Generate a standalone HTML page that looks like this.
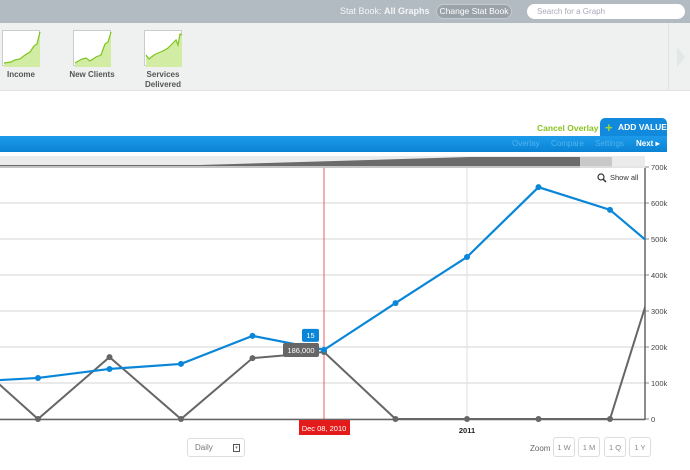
<!DOCTYPE html>
<html><head><meta charset="utf-8">
<style>
*{margin:0;padding:0;box-sizing:border-box}
body{width:690px;height:470px;overflow:hidden;background:#fff;font-family:"Liberation Sans",sans-serif;position:relative}
.abs{position:absolute}
#topbar{left:0;top:0;width:690px;height:23px;background:#b2bbc1}
#thumbs{left:0;top:23px;width:690px;height:68px;background:#eff0f0;border-bottom:1px solid #e2e4e4}
.th{position:absolute;top:7px;width:38px;height:36px;border:1px solid #c9cdcd;background:#fff}
.tl{position:absolute;font-size:8px;font-weight:bold;color:#555;text-align:center;width:70px;line-height:10px}
</style></head><body>
<div id="topbar" class="abs">
 <div class="abs" style="left:340px;top:6px;font-size:9px;color:#f4f6f7">Stat Book: <b>All Graphs</b></div>
 <div class="abs" style="left:436px;top:4px;width:76px;height:15px;border-radius:8px;background:#9aa3a9;border:1px solid #c4cacd;color:#fff;font-size:8.5px;text-align:center;line-height:13px">Change Stat Book</div>
 <div class="abs" style="left:527px;top:4px;width:158px;height:15px;border-radius:8px;background:#fff;color:#aab;font-size:8px;line-height:15px;padding-left:10px">Search for a Graph</div>
</div>
<div id="thumbs" class="abs">
 <div class="th" style="left:2px"><svg width="38" height="36"><path d="M1,32 L8,31 L12,29 L17,28 L22,24 L27,21 L31,15 L34,13 L37,1 L37,36 L1,36Z" fill="#d3eca4"/><path d="M1,32 L8,31 L12,29 L17,28 L22,24 L27,21 L31,15 L34,13 L37,1" fill="none" stroke="#7cc51e" stroke-width="1.2"/></svg></div>
 <div class="tl" style="left:-14px;top:47px">Income</div>
 <div class="th" style="left:73px"><svg width="38" height="36"><path d="M1,32 L8,28 L12,27 L16,30 L22,26 L27,24 L31,13 L34,11 L37,1 L37,36 L1,36Z" fill="#d3eca4"/><path d="M1,32 L8,28 L12,27 L16,30 L22,26 L27,24 L31,13 L34,11 L37,1" fill="none" stroke="#7cc51e" stroke-width="1.2"/></svg></div>
 <div class="tl" style="left:57px;top:47px">New Clients</div>
 <div class="th" style="left:144px"><svg width="38" height="36"><path d="M1,24 L4,28 L9,24 L13,22 L18,20 L23,17 L28,12 L31,9 L33,14 L35,3 L37,4 L37,36 L1,36Z" fill="#d3eca4"/><path d="M1,24 L4,28 L9,24 L13,22 L18,20 L23,17 L28,12 L31,9 L33,14 L35,3 L37,4" fill="none" stroke="#7cc51e" stroke-width="1.2"/></svg></div>
 <div class="tl" style="left:128px;top:47px">Services<br>Delivered</div>
 <div class="abs" style="left:668px;top:0;width:22px;height:68px;border-left:1px solid #e0e2e2"><svg width="22" height="68"><path d="M8,24 L16,34 L8,44Z" fill="#e4e7e7"/></svg></div>
</div>
<div class="abs" style="left:537px;top:123px;font-size:8.5px;font-weight:bold;color:#8cc21e">Cancel Overlay</div>
<div class="abs" style="left:600px;top:118px;width:67px;height:20px;background:#1189dc;border-radius:5px 5px 0 0;color:#fff;font-size:8.5px;font-weight:bold;line-height:19px;padding-left:18px"><span style="position:absolute;left:5px;top:0;color:#9fd631;font-size:13px">+</span>ADD VALUE</div>
<div class="abs" style="left:0;top:136px;width:667px;height:16px;background:linear-gradient(#1d9bea,#0a83d4);font-size:8px;color:#4fb3f0;line-height:16px">
 <span class="abs" style="left:512px">Overlay</span>
 <span class="abs" style="left:551px">Compare</span>
 <span class="abs" style="left:595px">Settings</span>
 <span class="abs" style="left:636px;color:#fff;font-weight:bold">Next ▸</span>
</div>
<svg id="chart" class="abs" style="left:0;top:0" width="690" height="470"></svg>
<div class="abs" style="left:187px;top:438px;width:58px;height:19px;border:1px solid #ddd;border-radius:3px;font-size:8px;color:#777;line-height:18px;padding-left:7px">Daily<span style="position:absolute;right:4px;top:5px;width:7px;height:8px;border:1px solid #555;font-size:5px;line-height:6px;text-align:center">▾</span></div>
<div class="abs" style="left:530px;top:444px;font-size:8px;color:#666">Zoom</div>
<div class="abs" style="left:553px;top:437px;width:22px;height:20px;border:1px solid #ddd;border-radius:3px;font-size:7.5px;color:#888;text-align:center;line-height:19px">1 W</div>
<div class="abs" style="left:578px;top:437px;width:22px;height:20px;border:1px solid #ddd;border-radius:3px;font-size:7.5px;color:#888;text-align:center;line-height:19px">1 M</div>
<div class="abs" style="left:604px;top:437px;width:22px;height:20px;border:1px solid #ddd;border-radius:3px;font-size:7.5px;color:#888;text-align:center;line-height:19px">1 Q</div>
<div class="abs" style="left:629px;top:437px;width:22px;height:20px;border:1px solid #ddd;border-radius:3px;font-size:7.5px;color:#888;text-align:center;line-height:19px">1 Y</div>
<script>
const xIndex = [-1,0,1,2,3,4,5,6,7,8,8.5];
const blueValues = [103,114,139,153,231,192,322,450,644,581,497];
const grayValues = [178,0,172,0,169,186,0,0,0,0,317];
const yTicks = [0,100,200,300,400,500,600,700];
const yTickLabels = ["0","100k","200k","300k","400k","500k","600k","700k"];
const NS="http://www.w3.org/2000/svg";
const svg=document.getElementById('chart');
const X=i=>38+i*71.5;
const Y=v=>419-v*0.36;
function mk(t,a){const e=document.createElementNS(NS,t);for(const k in a)e.setAttribute(k,a[k]);svg.appendChild(e);return e;}
const clip=mk('clipPath',{id:'pc'});const cr=document.createElementNS(NS,'rect');cr.setAttribute('x',0);cr.setAttribute('y',160);cr.setAttribute('width',645);cr.setAttribute('height',262);clip.appendChild(cr);
// overview strip
let ov=mk('rect',{x:0,y:156,width:645,height:12,fill:'#ebebeb'});


let ovs=mk('path',{d:'M0,165 L200,165 L470,157 L580,157 L580,168 L0,168Z',fill:'#6b6b6b'});


let ovw=mk('rect',{x:580,y:157,width:32,height:11,fill:'#c8c8c8'});


yTicks.forEach((v,i)=>{
 const g=mk('line',{x1:0,x2:645,y1:Y(v),y2:Y(v),stroke:'#e3e3e3','stroke-width':1.5});
 
 
 mk('line',{x1:645,x2:649,y1:Y(v),y2:Y(v),stroke:'#888'});
 const t=mk('text',{x:651,y:Y(v)+3,'font-size':7.5,fill:'#444'});t.textContent=yTickLabels[i];
 
 
});
let vl=mk('line',{x1:X(6),x2:X(6),y1:168,y2:419,stroke:'#ddd'});


let ax=mk('line',{x1:645,x2:645,y1:168,y2:420,stroke:'#666','stroke-width':1.5});


let xa=mk('line',{x1:0,x2:645,y1:419.5,y2:419.5,stroke:'#666','stroke-width':1.5});


let cl=mk('line',{x1:X(4),x2:X(4),y1:168,y2:420,stroke:'#ee3333','stroke-width':0.8});


function series(vals,col,w,name){
 const p=mk('polyline',{points:vals.map((v,i)=>X(xIndex[i])+','+Y(v)).join(' '),fill:'none',stroke:col,'stroke-width':w,'clip-path':'url(#pc)'});
 
 
 vals.forEach((v,i)=>{if(xIndex[i]<0||xIndex[i]%1)return;
  const c=mk('circle',{cx:X(xIndex[i]),cy:Y(v),r:3,fill:col});
  
  });
}
series(grayValues,'#666',2,'gray-series');
series(blueValues,'#0a86d8',2.2,'blue-series');
// tooltips
let tb=mk('rect',{x:X(4)-22,y:Y(blueValues[5])-21,width:17,height:13,rx:2,fill:'#0a86d8'});


let tbt=mk('text',{x:X(4)-13.5,y:Y(blueValues[5])-12,'font-size':7.5,fill:'#fff','text-anchor':'middle'});tbt.textContent='15';
let tg=mk('rect',{x:X(4)-41,y:Y(grayValues[5])-9,width:36,height:14,rx:2,fill:'#666'});


let tgt=mk('text',{x:X(4)-23,y:Y(grayValues[5])+1,'font-size':7.5,fill:'#fff','text-anchor':'middle'});tgt.textContent='186,000';
let db=mk('rect',{x:X(4)-25,y:420,width:51,height:15,fill:'#e31b1b'});


let dbt=mk('text',{x:X(4),y:431,'font-size':7.5,fill:'#fff','text-anchor':'middle'});dbt.textContent='Dec 08, 2010';
let yl=mk('text',{x:X(6),y:433,'font-size':7.5,'font-weight':'bold',fill:'#222','text-anchor':'middle'});yl.textContent='2011';


let sa=mk('text',{x:610,y:180,'font-size':7.5,fill:'#333'});sa.textContent='Show all';


mk('circle',{cx:601,cy:177,r:3,fill:'none',stroke:'#333','stroke-width':1.2});
mk('line',{x1:603,y1:179,x2:606,y2:182,stroke:'#333','stroke-width':1.5});
</script>
</body></html>
